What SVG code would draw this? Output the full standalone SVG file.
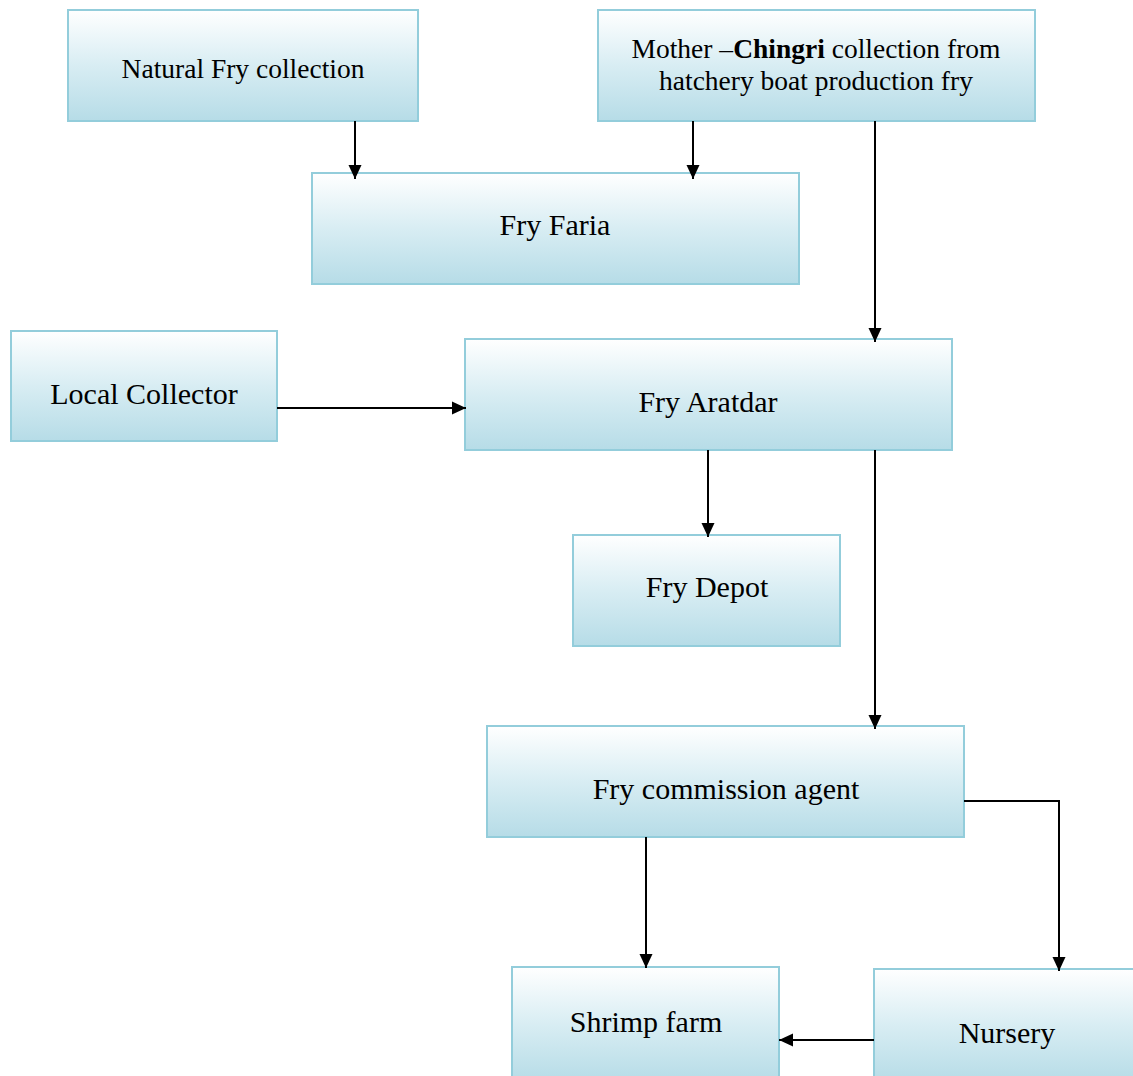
<svg xmlns="http://www.w3.org/2000/svg" width="1133" height="1076" viewBox="0 0 1133 1076">
  <defs>
    <linearGradient id="boxFill" x1="0" y1="0" x2="0" y2="1">
      <stop offset="0" stop-color="#ffffff"/>
      <stop offset="0.5" stop-color="#d8edf3"/>
      <stop offset="1" stop-color="#b6dce7"/>
    </linearGradient>
    <marker id="arrow" markerWidth="14" markerHeight="14" viewBox="0 0 14 14" refX="14" refY="7" orient="auto" markerUnits="userSpaceOnUse">
      <path d="M0,0.5 L14,7 L0,13.5 Z" fill="#000"/>
    </marker>
  </defs>
  <style>
    .box { fill: url(#boxFill); stroke: #93cddb; stroke-width: 2; }
    .label { font-family: "Liberation Serif", "Times New Roman", serif; font-size: 30px; fill: #000; text-anchor: middle; }
    .small { font-size: 27.5px; }
    .conn { fill: none; stroke: #000; stroke-width: 2; marker-end: url(#arrow); }
  </style>
  <rect width="1133" height="1076" fill="#fff"/>

  <g id="natural-fry">
    <rect class="box" x="68" y="10" width="350" height="111"/>
    <text class="label small" x="243" y="78">Natural Fry collection</text>
  </g>
  <g id="mother-chingri">
    <rect class="box" x="598" y="10" width="437" height="111"/>
    <text class="label small" x="816" y="58">Mother –<tspan font-weight="bold">Chingri</tspan> collection from</text>
    <text class="label small" x="816" y="90">hatchery boat production fry</text>
  </g>
  <g id="fry-faria">
    <rect class="box" x="312" y="173" width="487" height="111"/>
    <text class="label" x="555" y="235">Fry Faria</text>
  </g>
  <g id="local-collector">
    <rect class="box" x="11" y="331" width="266" height="110"/>
    <text class="label" x="144" y="404">Local Collector</text>
  </g>
  <g id="fry-aratdar">
    <rect class="box" x="465" y="339" width="487" height="111"/>
    <text class="label" x="708" y="412">Fry Aratdar</text>
  </g>
  <g id="fry-depot">
    <rect class="box" x="573" y="535" width="267" height="111"/>
    <text class="label" x="707" y="597">Fry Depot</text>
  </g>
  <g id="commission-agent">
    <rect class="box" x="487" y="726" width="477" height="111"/>
    <text class="label" x="726" y="799">Fry commission agent</text>
  </g>
  <g id="shrimp-farm">
    <rect class="box" x="512" y="967" width="267" height="115"/>
    <text class="label" x="646" y="1032">Shrimp farm</text>
  </g>
  <g id="nursery">
    <rect class="box" x="874" y="969" width="265" height="113"/>
    <text class="label" x="1007" y="1043">Nursery</text>
  </g>

  <g id="connectors">
    <path class="conn" d="M355,121 V179"/>
    <path class="conn" d="M693,121 V179"/>
    <path class="conn" d="M875,121 V342"/>
    <path class="conn" d="M277,408 H466"/>
    <path class="conn" d="M708,450 V537"/>
    <path class="conn" d="M875,450 V729"/>
    <path class="conn" d="M964,801 H1059 V971"/>
    <path class="conn" d="M646,837 V968"/>
    <path class="conn" d="M874,1040 H779"/>
  </g>
</svg>
